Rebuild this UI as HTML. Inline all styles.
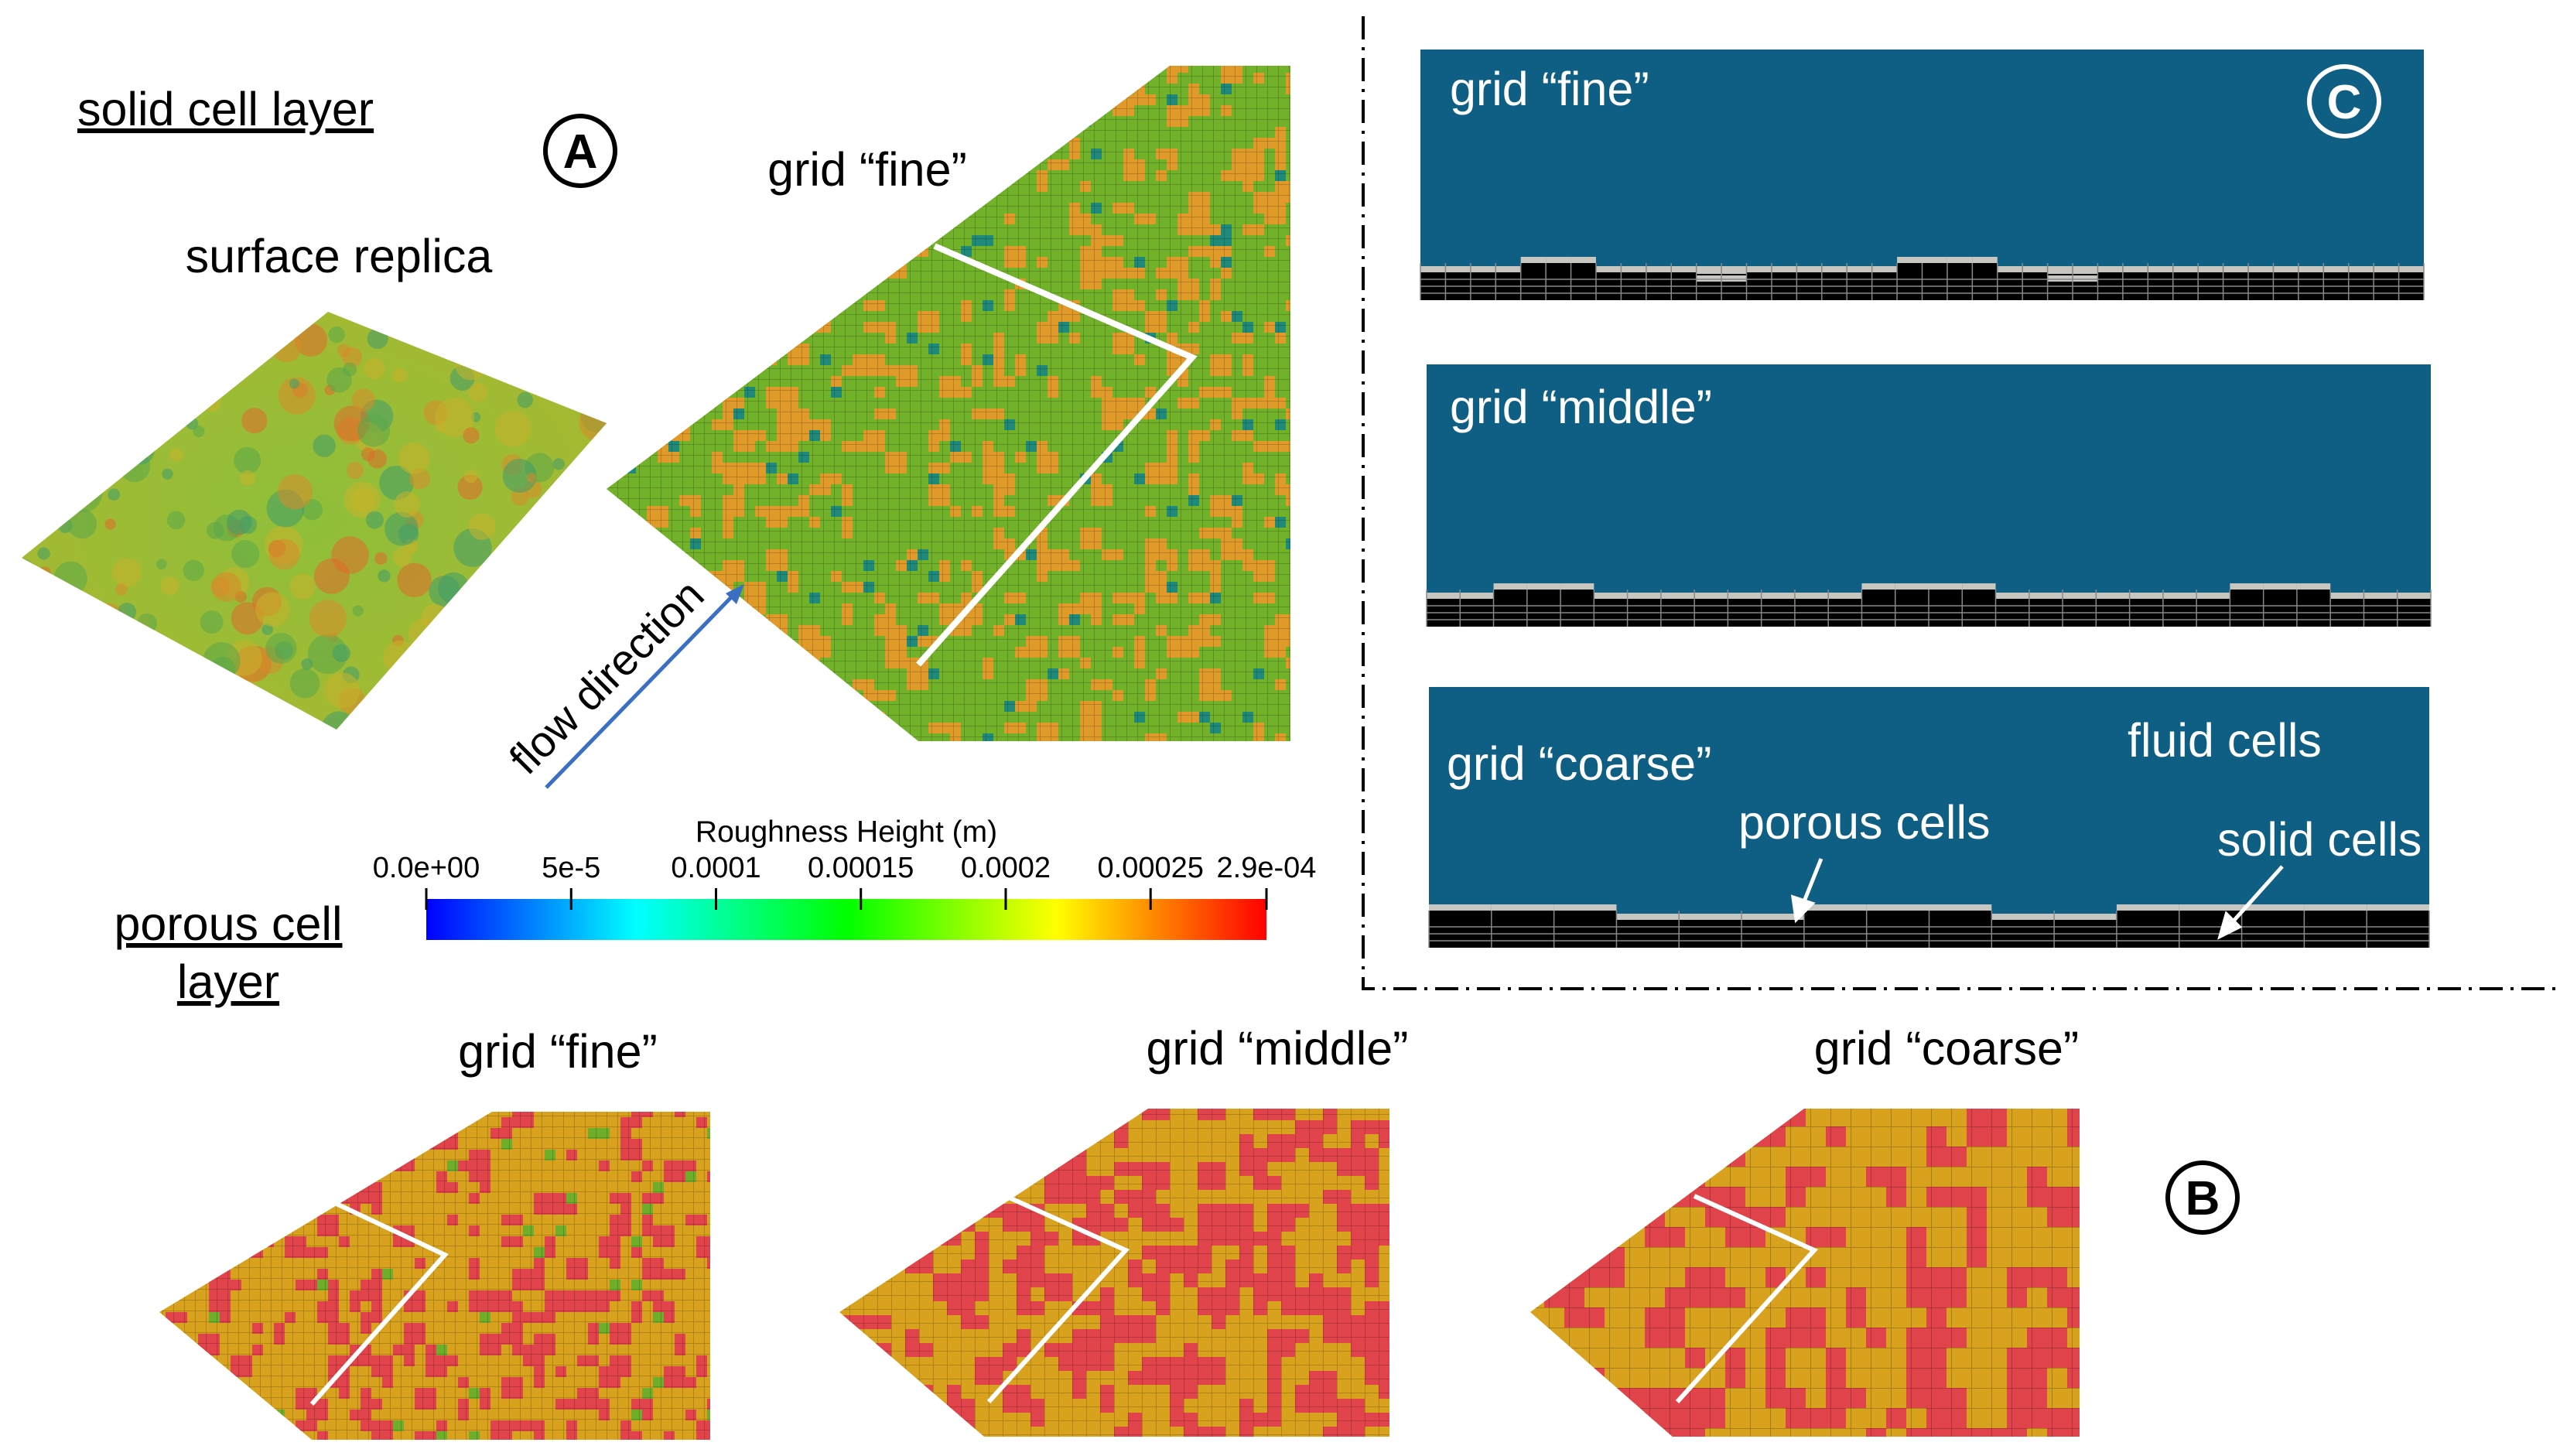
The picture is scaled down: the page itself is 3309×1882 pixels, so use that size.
<!DOCTYPE html>
<html><head><meta charset="utf-8"><style>
html,body{margin:0;padding:0;background:#fff;}
svg{display:block;}
text{font-family:"Liberation Sans",sans-serif;}
</style></head><body>
<svg id="fig" width="3309" height="1882" viewBox="0 0 3309 1882">
<defs>
<linearGradient id="cbar" x1="0" x2="1" y1="0" y2="0">
<stop offset="0" stop-color="#0000ff"/><stop offset="0.25" stop-color="#00ffff"/><stop offset="0.5" stop-color="#00ff00"/><stop offset="0.75" stop-color="#ffff00"/><stop offset="1" stop-color="#ff0000"/>
</linearGradient>
<pattern id="gridS" width="14" height="14" patternUnits="userSpaceOnUse"><path d="M14 0H0V14" fill="none" stroke="#000" stroke-opacity="0.25" stroke-width="1.5"/></pattern>
<pattern id="gridM" width="18" height="18" patternUnits="userSpaceOnUse"><path d="M18 0H0V18" fill="none" stroke="#000" stroke-opacity="0.25" stroke-width="1.5"/></pattern>
<pattern id="gridL" width="26" height="26" patternUnits="userSpaceOnUse"><path d="M26 0H0V26" fill="none" stroke="#000" stroke-opacity="0.3" stroke-width="1.5"/></pattern>
<radialGradient id="rep" cx="0.5" cy="0.5" r="0.6"><stop offset="0" stop-color="#8fbf3a"/><stop offset="1" stop-color="#a9b830"/></radialGradient>
<clipPath id="cRep"><polygon points="28,721 424,403 784,547 435,943"/></clipPath>
<clipPath id="cFine"><polygon points="784,632 1512,85 1668,85 1668,958 1187,958"/></clipPath>
<clipPath id="cB1"><polygon points="206,1696 636,1437 918,1437 918,1861 403,1861"/></clipPath>
<clipPath id="cB2"><polygon points="1085,1696 1484,1433 1796,1433 1796,1857 1272,1857"/></clipPath>
<clipPath id="cB3"><polygon points="1978,1696 2332,1433 2688,1433 2688,1857 2162,1857"/></clipPath>
</defs>

<text x="100" y="162" font-size="61" text-decoration="underline">solid cell layer</text>
<g><circle cx="750" cy="195" r="45" fill="none" stroke="#000" stroke-width="6"/><text x="750" y="217" font-size="62" font-weight="bold" text-anchor="middle">A</text></g>
<text x="1121" y="240" font-size="61" text-anchor="middle">grid “fine”</text>
<text x="438" y="352" font-size="61" text-anchor="middle">surface replica</text>

<g clip-path="url(#cRep)">
<rect x="0" y="380" width="800" height="580" fill="url(#rep)"/>
<g id="repBlobs"></g>
</g>

<g clip-path="url(#cFine)">
<rect x="780" y="80" width="900" height="900" fill="#72b22a"/>
<g id="fineBlobs"></g>
<rect x="780" y="80" width="900" height="900" fill="url(#gridS)"/>
</g>
<polyline points="1208,318 1541,462 1187,859" fill="none" stroke="#fff" stroke-width="8"/>

<g>
<line x1="706" y1="1018" x2="950" y2="767" stroke="#3a6fc4" stroke-width="5"/>
<polygon points="962,755 938,767 952,781" fill="#3a6fc4"/>
<text x="0" y="0" font-size="56" transform="translate(682,1004) rotate(-45)">flow direction</text>
</g>

<g>
<text x="1094" y="1088" font-size="39" text-anchor="middle">Roughness Height (m)</text>
<rect x="551" y="1162" width="1086" height="53" fill="url(#cbar)"/>
<g id="cbTicks"></g>
</g>

<text x="295" y="1215" font-size="61" text-anchor="middle" text-decoration="underline">porous cell</text>
<text x="295" y="1290" font-size="61" text-anchor="middle" text-decoration="underline">layer</text>

<polyline points="1762,21 1762,1278 3309,1278" fill="none" stroke="#000" stroke-width="4" stroke-dasharray="30,10,4,10"/>

<g id="panelC"></g>
<g><circle cx="3030" cy="131" r="45" fill="none" stroke="#fff" stroke-width="6"/><text x="3030" y="153" font-size="62" font-weight="bold" text-anchor="middle" fill="#fff">C</text></g>
<text x="1874" y="136" font-size="61" fill="#fff">grid “fine”</text>
<text x="1874" y="547" font-size="61" fill="#fff">grid “middle”</text>
<text x="1870" y="1008" font-size="61" fill="#fff">grid “coarse”</text>
<text x="2750" y="978" font-size="61" fill="#fff">fluid cells</text>
<text x="2247" y="1084" font-size="61" fill="#fff">porous cells</text>
<text x="2866" y="1106" font-size="61" fill="#fff">solid cells</text>
<g stroke="#fff" stroke-width="5" fill="#fff">
<line x1="2354" y1="1110" x2="2330" y2="1170"/><polygon points="2322,1188 2318,1160 2342,1168"/>
<line x1="2950" y1="1120" x2="2882" y2="1196"/><polygon points="2870,1210 2878,1182 2894,1198"/>
</g>

<text x="721" y="1380" font-size="61" text-anchor="middle">grid “fine”</text>
<text x="1651" y="1376" font-size="61" text-anchor="middle">grid “middle”</text>
<text x="2516" y="1376" font-size="61" text-anchor="middle">grid “coarse”</text>
<g><circle cx="2847" cy="1548" r="45" fill="none" stroke="#000" stroke-width="6"/><text x="2847" y="1570" font-size="62" font-weight="bold" text-anchor="middle">B</text></g>

<g clip-path="url(#cB1)"><rect x="200" y="1430" width="730" height="440" fill="#d8a21e"/><g id="b1"></g><rect x="200" y="1430" width="730" height="440" fill="url(#gridS)"/></g>
<g clip-path="url(#cB2)"><rect x="1080" y="1430" width="730" height="440" fill="#d8a21e"/><g id="b2"></g><rect x="1080" y="1430" width="730" height="440" fill="url(#gridM)"/></g>
<g clip-path="url(#cB3)"><rect x="1970" y="1430" width="730" height="440" fill="#d8a21e"/><g id="b3"></g><rect x="1970" y="1430" width="730" height="440" fill="url(#gridL)"/></g>
<polyline points="418,1548 575,1622 403,1815" fill="none" stroke="#fff" stroke-width="6"/>
<polyline points="1300,1546 1455,1616 1278,1812" fill="none" stroke="#fff" stroke-width="6"/>
<polyline points="2190,1546 2345,1616 2168,1812" fill="none" stroke="#fff" stroke-width="6"/>
</svg>
<script>
const NS="http://www.w3.org/2000/svg";
const tickValues=[0,0.00005,0.0001,0.00015,0.0002,0.00025,0.00029];
const tickLabels=["0.0e+00","5e-5","0.0001","0.00015","0.0002","0.00025","2.9e-04"];
const cbMin=0, cbMax=0.00029;
const stepsFine=[1,1,1,1,2,2,2,1,1,1,1,0,0,1,1,1,1,1,1,2,2,2,2,1,1,0,0,1,1,1,1,1,1,1,1,1,1,1,1,1];
const stepsMiddle=[1,1,2,2,2,1,1,1,1,1,1,1,1,2,2,2,2,1,1,1,1,1,1,1,2,2,2,1,1,1];
const stepsCoarse=[2,2,2,1,1,1,2,2,2,1,1,2,2,2,2,2];

function mk(tag,attrs,parent){const e=document.createElementNS(NS,tag);for(const k in attrs)e.setAttribute(k,attrs[k]);parent.appendChild(e);return e;}
const cbx=v=>551+(v-cbMin)/(cbMax-cbMin)*1086;
const cbT=document.getElementById('cbTicks');
tickValues.forEach((v,i)=>{
  const x=cbx(v);
  const l=mk('line',{x1:x,x2:x,y1:1148,y2:1176,stroke:'#000','stroke-width':3},cbT);
  
  
  const t=mk('text',{x:x,y:1134,'font-size':38,'text-anchor':'middle'},cbT);
  
  
  t.textContent=tickLabels[i];
});

let seed=12345;function rnd(){seed=(seed*16807)%2147483647;return seed/2147483647;}
function blobs(id,x0,y0,w,h,cell,color,prob,extra){
  const g=document.getElementById(id);
  for(let y=y0;y<y0+h;y+=cell)for(let x=x0;x<x0+w;x+=cell){
    const r=rnd();
    if(r<prob){mk('rect',{x:x,y:y,width:cell*(1+Math.floor(rnd()*2)),height:cell*(1+Math.floor(rnd()*2)),fill:color},g);}
    else if(extra&&r<prob+extra.p){mk('rect',{x:x,y:y,width:cell,height:cell,fill:extra.c},g);}
  }
}
blobs('fineBlobs',780,80,900,900,14,'#e09a2a',0.13,{p:0.03,c:'#1f8a7a'});
blobs('b1',200,1430,730,440,14,'#e0434a',0.14,{p:0.02,c:'#6fae2a'});
blobs('b2',1080,1430,730,440,18,'#e0434a',0.22,null);
blobs('b3',1970,1430,730,440,26,'#e0434a',0.3,null);
(function(){const g=document.getElementById('repBlobs');const cols=['#d98a2a','#3f9c6a','#c8b22a','#e06a2a','#5aa84a'];
for(let i=0;i<260;i++){mk('circle',{cx:20+rnd()*780,cy:390+rnd()*560,r:6+rnd()*20,fill:cols[Math.floor(rnd()*5)],'fill-opacity':0.55},g);}})();

const boxes=[{x:1836,y:64,w:1297,h:324,steps:stepsFine},{x:1844,y:471,w:1298,h:339,steps:stepsMiddle},{x:1847,y:888,w:1293,h:337,steps:stepsCoarse}];
const pc=document.getElementById('panelC');
boxes.forEach((b,bi)=>{
  const g=mk('g',{},pc);
  
  
  mk('rect',{x:b.x,y:b.y,width:b.w,height:b.h,fill:'#0f5f85'},g);
  const base=b.y+b.h-36, lvl=12, cw=b.w/b.steps.length;
  mk('rect',{x:b.x,y:base,width:b.w,height:36,fill:'#000'},g);
  b.steps.forEach((s,i)=>{
    const x=b.x+i*cw, top=base-(s-1)*lvl;
    if(s>1) mk('rect',{x:x,y:top,width:cw,height:base-top,fill:'#000'},g);
    mk('rect',{x:x,y:top-8,width:cw,height:8,fill:'#c8c6c0'},g);
    if(s<1) mk('rect',{x:x,y:base-8,width:cw,height:10,fill:'#c8c6c0'},g);
  });
  for(let k=1;k<4;k++) mk('line',{x1:b.x,x2:b.x+b.w,y1:base+k*9,y2:base+k*9,stroke:'#888','stroke-width':1.5},g);
  for(let i=0;i<=b.steps.length;i++) mk('line',{x1:b.x+i*cw,x2:b.x+i*cw,y1:base-12,y2:b.y+b.h,stroke:'#888','stroke-width':1.5},g);
});
</script>
</body></html>
